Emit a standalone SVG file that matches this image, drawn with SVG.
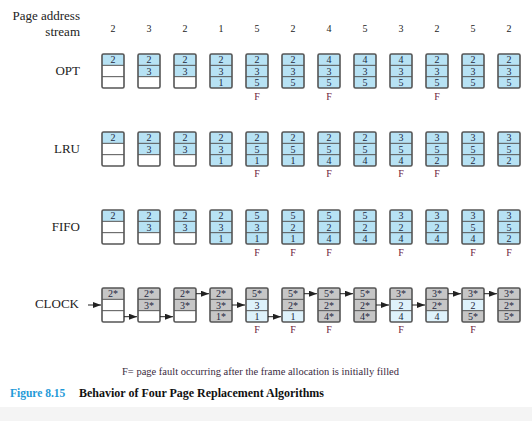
<svg xmlns="http://www.w3.org/2000/svg" xmlns:xlink="http://www.w3.org/1999/xlink" width="532" height="421" viewBox="0 0 532 421">
<style>
text{font-family:"Liberation Serif","Times New Roman",serif;}
.lbl{font-size:13px;fill:#222;text-anchor:end;}
.hdr{font-size:10px;fill:#222;text-anchor:middle;}
.n{font-size:10px;fill:#1e2840;text-anchor:middle;}
.f{font-size:10px;fill:#6e1c3c;text-anchor:middle;}
.c{fill:#b7e2f4;}
.e{fill:#ffffff;}
.g{fill:#c6c6c6;}
.l{fill:#def2fb;}
.o{fill:none;stroke:#555;stroke-width:1.6;}
.s{stroke:#555;stroke-width:1;}
.a{stroke:#222;stroke-width:1;fill:none;marker-end:url(#ah);}
</style>
<defs>
<marker id="ah" viewBox="0 0 8 6" refX="8" refY="3" markerWidth="8" markerHeight="6" markerUnits="userSpaceOnUse" orient="auto"><path d="M0,0 L8,3 L0,6 z" fill="#222"/></marker>
<g id="fr"><line class="s" x1="0" y1="11.33" x2="22" y2="11.33"/><line class="s" x1="0" y1="22.67" x2="22" y2="22.67"/><rect class="o" x="0" y="0" width="22" height="34" rx="1.5"/></g>
</defs>
<rect x="0" y="407" width="532" height="14" fill="#f4f4f4"/>
<g id="labels">
<text class="lbl" x="80" y="20">Page address</text>
<text class="lbl" x="80" y="36">stream</text>
<text class="lbl" x="80" y="75">OPT</text>
<text class="lbl" x="80" y="153">LRU</text>
<text class="lbl" x="80" y="231">FIFO</text>
<text class="lbl" x="79" y="308">CLOCK</text>
</g>
<g id="stream">
<text class="hdr" x="113" y="32">2</text><text class="hdr" x="149" y="32">3</text><text class="hdr" x="185" y="32">2</text><text class="hdr" x="221" y="32">1</text><text class="hdr" x="257" y="32">5</text><text class="hdr" x="293" y="32">2</text><text class="hdr" x="329" y="32">4</text><text class="hdr" x="365" y="32">5</text><text class="hdr" x="401" y="32">3</text><text class="hdr" x="437" y="32">2</text><text class="hdr" x="473" y="32">5</text><text class="hdr" x="509" y="32">2</text>
</g>
<!-- OPT -->
<g id="opt">
<g id="opt1" transform="translate(102,54)"><rect class="c" width="22" height="11.33"/><rect class="e" y="11.33" width="22" height="22.67"/><use xlink:href="#fr"/><text class="n" x="11" y="9.2">2</text></g>
<g id="opt2" transform="translate(138,54)"><rect class="c" width="22" height="22.67"/><rect class="e" y="22.67" width="22" height="11.33"/><use xlink:href="#fr"/><text class="n" x="11" y="9.2">2</text><text class="n" x="11" y="20.5">3</text></g>
<g id="opt3" transform="translate(174,54)"><rect class="c" width="22" height="22.67"/><rect class="e" y="22.67" width="22" height="11.33"/><use xlink:href="#fr"/><text class="n" x="11" y="9.2">2</text><text class="n" x="11" y="20.5">3</text></g>
<g id="opt4" transform="translate(210,54)"><rect class="c" width="22" height="34"/><use xlink:href="#fr"/><text class="n" x="11" y="9.2">2</text><text class="n" x="11" y="20.5">3</text><text class="n" x="11" y="31.8">1</text></g>
<g id="opt5" transform="translate(246,54)"><rect class="c" width="22" height="34"/><use xlink:href="#fr"/><text class="n" x="11" y="9.2">2</text><text class="n" x="11" y="20.5">3</text><text class="n" x="11" y="31.8">5</text></g>
<g id="opt6" transform="translate(282,54)"><rect class="c" width="22" height="34"/><use xlink:href="#fr"/><text class="n" x="11" y="9.2">2</text><text class="n" x="11" y="20.5">3</text><text class="n" x="11" y="31.8">5</text></g>
<g id="opt7" transform="translate(318,54)"><rect class="c" width="22" height="34"/><use xlink:href="#fr"/><text class="n" x="11" y="9.2">4</text><text class="n" x="11" y="20.5">3</text><text class="n" x="11" y="31.8">5</text></g>
<g id="opt8" transform="translate(354,54)"><rect class="c" width="22" height="34"/><use xlink:href="#fr"/><text class="n" x="11" y="9.2">4</text><text class="n" x="11" y="20.5">3</text><text class="n" x="11" y="31.8">5</text></g>
<g id="opt9" transform="translate(390,54)"><rect class="c" width="22" height="34"/><use xlink:href="#fr"/><text class="n" x="11" y="9.2">4</text><text class="n" x="11" y="20.5">3</text><text class="n" x="11" y="31.8">5</text></g>
<g id="opt10" transform="translate(426,54)"><rect class="c" width="22" height="34"/><use xlink:href="#fr"/><text class="n" x="11" y="9.2">2</text><text class="n" x="11" y="20.5">3</text><text class="n" x="11" y="31.8">5</text></g>
<g id="opt11" transform="translate(462,54)"><rect class="c" width="22" height="34"/><use xlink:href="#fr"/><text class="n" x="11" y="9.2">2</text><text class="n" x="11" y="20.5">3</text><text class="n" x="11" y="31.8">5</text></g>
<g id="opt12" transform="translate(498,54)"><rect class="c" width="22" height="34"/><use xlink:href="#fr"/><text class="n" x="11" y="9.2">2</text><text class="n" x="11" y="20.5">3</text><text class="n" x="11" y="31.8">5</text></g>
<text class="f" x="257" y="100">F</text><text class="f" x="329" y="100">F</text><text class="f" x="437" y="100">F</text>
</g>
<!-- LRU -->
<g id="lru">
<g id="lru1" transform="translate(102,132)"><rect class="c" width="22" height="11.33"/><rect class="e" y="11.33" width="22" height="22.67"/><use xlink:href="#fr"/><text class="n" x="11" y="9.2">2</text></g>
<g id="lru2" transform="translate(138,132)"><rect class="c" width="22" height="22.67"/><rect class="e" y="22.67" width="22" height="11.33"/><use xlink:href="#fr"/><text class="n" x="11" y="9.2">2</text><text class="n" x="11" y="20.5">3</text></g>
<g id="lru3" transform="translate(174,132)"><rect class="c" width="22" height="22.67"/><rect class="e" y="22.67" width="22" height="11.33"/><use xlink:href="#fr"/><text class="n" x="11" y="9.2">2</text><text class="n" x="11" y="20.5">3</text></g>
<g id="lru4" transform="translate(210,132)"><rect class="c" width="22" height="34"/><use xlink:href="#fr"/><text class="n" x="11" y="9.2">2</text><text class="n" x="11" y="20.5">3</text><text class="n" x="11" y="31.8">1</text></g>
<g id="lru5" transform="translate(246,132)"><rect class="c" width="22" height="34"/><use xlink:href="#fr"/><text class="n" x="11" y="9.2">2</text><text class="n" x="11" y="20.5">5</text><text class="n" x="11" y="31.8">1</text></g>
<g id="lru6" transform="translate(282,132)"><rect class="c" width="22" height="34"/><use xlink:href="#fr"/><text class="n" x="11" y="9.2">2</text><text class="n" x="11" y="20.5">5</text><text class="n" x="11" y="31.8">1</text></g>
<g id="lru7" transform="translate(318,132)"><rect class="c" width="22" height="34"/><use xlink:href="#fr"/><text class="n" x="11" y="9.2">2</text><text class="n" x="11" y="20.5">5</text><text class="n" x="11" y="31.8">4</text></g>
<g id="lru8" transform="translate(354,132)"><rect class="c" width="22" height="34"/><use xlink:href="#fr"/><text class="n" x="11" y="9.2">2</text><text class="n" x="11" y="20.5">5</text><text class="n" x="11" y="31.8">4</text></g>
<g id="lru9" transform="translate(390,132)"><rect class="c" width="22" height="34"/><use xlink:href="#fr"/><text class="n" x="11" y="9.2">3</text><text class="n" x="11" y="20.5">5</text><text class="n" x="11" y="31.8">4</text></g>
<g id="lru10" transform="translate(426,132)"><rect class="c" width="22" height="34"/><use xlink:href="#fr"/><text class="n" x="11" y="9.2">3</text><text class="n" x="11" y="20.5">5</text><text class="n" x="11" y="31.8">2</text></g>
<g id="lru11" transform="translate(462,132)"><rect class="c" width="22" height="34"/><use xlink:href="#fr"/><text class="n" x="11" y="9.2">3</text><text class="n" x="11" y="20.5">5</text><text class="n" x="11" y="31.8">2</text></g>
<g id="lru12" transform="translate(498,132)"><rect class="c" width="22" height="34"/><use xlink:href="#fr"/><text class="n" x="11" y="9.2">3</text><text class="n" x="11" y="20.5">5</text><text class="n" x="11" y="31.8">2</text></g>
<text class="f" x="257" y="177">F</text><text class="f" x="329" y="177">F</text><text class="f" x="401" y="177">F</text><text class="f" x="437" y="177">F</text>
</g>
<!-- FIFO -->
<g id="fifo">
<g id="fifo1" transform="translate(102,210)"><rect class="c" width="22" height="11.33"/><rect class="e" y="11.33" width="22" height="22.67"/><use xlink:href="#fr"/><text class="n" x="11" y="9.2">2</text></g>
<g id="fifo2" transform="translate(138,210)"><rect class="c" width="22" height="22.67"/><rect class="e" y="22.67" width="22" height="11.33"/><use xlink:href="#fr"/><text class="n" x="11" y="9.2">2</text><text class="n" x="11" y="20.5">3</text></g>
<g id="fifo3" transform="translate(174,210)"><rect class="c" width="22" height="22.67"/><rect class="e" y="22.67" width="22" height="11.33"/><use xlink:href="#fr"/><text class="n" x="11" y="9.2">2</text><text class="n" x="11" y="20.5">3</text></g>
<g id="fifo4" transform="translate(210,210)"><rect class="c" width="22" height="34"/><use xlink:href="#fr"/><text class="n" x="11" y="9.2">2</text><text class="n" x="11" y="20.5">3</text><text class="n" x="11" y="31.8">1</text></g>
<g id="fifo5" transform="translate(246,210)"><rect class="c" width="22" height="34"/><use xlink:href="#fr"/><text class="n" x="11" y="9.2">5</text><text class="n" x="11" y="20.5">3</text><text class="n" x="11" y="31.8">1</text></g>
<g id="fifo6" transform="translate(282,210)"><rect class="c" width="22" height="34"/><use xlink:href="#fr"/><text class="n" x="11" y="9.2">5</text><text class="n" x="11" y="20.5">2</text><text class="n" x="11" y="31.8">1</text></g>
<g id="fifo7" transform="translate(318,210)"><rect class="c" width="22" height="34"/><use xlink:href="#fr"/><text class="n" x="11" y="9.2">5</text><text class="n" x="11" y="20.5">2</text><text class="n" x="11" y="31.8">4</text></g>
<g id="fifo8" transform="translate(354,210)"><rect class="c" width="22" height="34"/><use xlink:href="#fr"/><text class="n" x="11" y="9.2">5</text><text class="n" x="11" y="20.5">2</text><text class="n" x="11" y="31.8">4</text></g>
<g id="fifo9" transform="translate(390,210)"><rect class="c" width="22" height="34"/><use xlink:href="#fr"/><text class="n" x="11" y="9.2">3</text><text class="n" x="11" y="20.5">2</text><text class="n" x="11" y="31.8">4</text></g>
<g id="fifo10" transform="translate(426,210)"><rect class="c" width="22" height="34"/><use xlink:href="#fr"/><text class="n" x="11" y="9.2">3</text><text class="n" x="11" y="20.5">2</text><text class="n" x="11" y="31.8">4</text></g>
<g id="fifo11" transform="translate(462,210)"><rect class="c" width="22" height="34"/><use xlink:href="#fr"/><text class="n" x="11" y="9.2">3</text><text class="n" x="11" y="20.5">5</text><text class="n" x="11" y="31.8">4</text></g>
<g id="fifo12" transform="translate(498,210)"><rect class="c" width="22" height="34"/><use xlink:href="#fr"/><text class="n" x="11" y="9.2">3</text><text class="n" x="11" y="20.5">5</text><text class="n" x="11" y="31.8">2</text></g>
<text class="f" x="257" y="256">F</text><text class="f" x="293" y="256">F</text><text class="f" x="329" y="256">F</text><text class="f" x="401" y="256">F</text><text class="f" x="473" y="256">F</text><text class="f" x="509" y="256">F</text>
</g>
<!-- CLOCK -->
<g id="clock">
<g id="clk1" transform="translate(102,288)"><rect class="g" width="22" height="11.33"/><rect class="e" y="11.33" width="22" height="22.67"/><use xlink:href="#fr"/><text class="n" x="11" y="9.2">2*</text></g>
<g id="clk2" transform="translate(138,288)"><rect class="g" width="22" height="22.67"/><rect class="e" y="22.67" width="22" height="11.33"/><use xlink:href="#fr"/><text class="n" x="11" y="9.2">2*</text><text class="n" x="11" y="20.5">3*</text></g>
<g id="clk3" transform="translate(174,288)"><rect class="g" width="22" height="22.67"/><rect class="e" y="22.67" width="22" height="11.33"/><use xlink:href="#fr"/><text class="n" x="11" y="9.2">2*</text><text class="n" x="11" y="20.5">3*</text></g>
<g id="clk4" transform="translate(210,288)"><rect class="g" width="22" height="34"/><use xlink:href="#fr"/><text class="n" x="11" y="9.2">2*</text><text class="n" x="11" y="20.5">3*</text><text class="n" x="11" y="31.8">1*</text></g>
<g id="clk5" transform="translate(246,288)"><rect class="g" width="22" height="11.33"/><rect class="l" y="11.33" width="22" height="22.67"/><use xlink:href="#fr"/><text class="n" x="11" y="9.2">5*</text><text class="n" x="11" y="20.5">3</text><text class="n" x="11" y="31.8">1</text></g>
<g id="clk6" transform="translate(282,288)"><rect class="g" width="22" height="22.67"/><rect class="l" y="22.67" width="22" height="11.33"/><use xlink:href="#fr"/><text class="n" x="11" y="9.2">5*</text><text class="n" x="11" y="20.5">2*</text><text class="n" x="11" y="31.8">1</text></g>
<g id="clk7" transform="translate(318,288)"><rect class="g" width="22" height="34"/><use xlink:href="#fr"/><text class="n" x="11" y="9.2">5*</text><text class="n" x="11" y="20.5">2*</text><text class="n" x="11" y="31.8">4*</text></g>
<g id="clk8" transform="translate(354,288)"><rect class="g" width="22" height="34"/><use xlink:href="#fr"/><text class="n" x="11" y="9.2">5*</text><text class="n" x="11" y="20.5">2*</text><text class="n" x="11" y="31.8">4*</text></g>
<g id="clk9" transform="translate(390,288)"><rect class="g" width="22" height="11.33"/><rect class="l" y="11.33" width="22" height="22.67"/><use xlink:href="#fr"/><text class="n" x="11" y="9.2">3*</text><text class="n" x="11" y="20.5">2</text><text class="n" x="11" y="31.8">4</text></g>
<g id="clk10" transform="translate(426,288)"><rect class="g" width="22" height="22.67"/><rect class="l" y="22.67" width="22" height="11.33"/><use xlink:href="#fr"/><text class="n" x="11" y="9.2">3*</text><text class="n" x="11" y="20.5">2*</text><text class="n" x="11" y="31.8">4</text></g>
<g id="clk11" transform="translate(462,288)"><rect class="g" width="22" height="34"/><rect class="l" y="11.33" width="22" height="11.34"/><use xlink:href="#fr"/><text class="n" x="11" y="9.2">3*</text><text class="n" x="11" y="20.5">2</text><text class="n" x="11" y="31.8">5*</text></g>
<g id="clk12" transform="translate(498,288)"><rect class="g" width="22" height="34"/><use xlink:href="#fr"/><text class="n" x="11" y="9.2">3*</text><text class="n" x="11" y="20.5">2*</text><text class="n" x="11" y="31.8">5*</text></g>
<text class="f" x="257" y="333">F</text><text class="f" x="293" y="333">F</text><text class="f" x="329" y="333">F</text><text class="f" x="401" y="333">F</text><text class="f" x="473" y="333">F</text>
</g>
<g id="connectors">
<line class="a" x1="88" y1="305" x2="101" y2="305"/>
<line class="a" x1="124" y1="316.7" x2="137" y2="316.7"/>
<line class="a" x1="160" y1="316.7" x2="173" y2="316.7"/>
<line class="a" x1="196" y1="293.7" x2="209" y2="293.7"/>
<line class="a" x1="232" y1="305" x2="245" y2="305"/>
<line class="a" x1="268" y1="316.7" x2="281" y2="316.7"/>
<line class="a" x1="304" y1="293.7" x2="317" y2="293.7"/>
<line class="a" x1="340" y1="293.7" x2="353" y2="293.7"/>
<line class="a" x1="376" y1="305" x2="389" y2="305"/>
<line class="a" x1="412" y1="305" x2="425" y2="305"/>
<line class="a" x1="448" y1="293.7" x2="461" y2="293.7"/>
<line class="a" x1="484" y1="293.7" x2="497" y2="293.7"/>
</g>
<g id="caption">
<text x="260.5" y="375" text-anchor="middle" font-size="9.5" fill="#3a2a40" textLength="277" lengthAdjust="spacingAndGlyphs">F= page fault occurring after the frame allocation is initially filled</text>
<text x="10" y="397" font-size="11.5" font-weight="bold" fill="#1f9ad8">Figure 8.15</text>
<text x="79" y="397" font-size="11.5" font-weight="bold" fill="#111" textLength="245" lengthAdjust="spacingAndGlyphs">Behavior of Four Page Replacement Algorithms</text>
</g>
</svg>
